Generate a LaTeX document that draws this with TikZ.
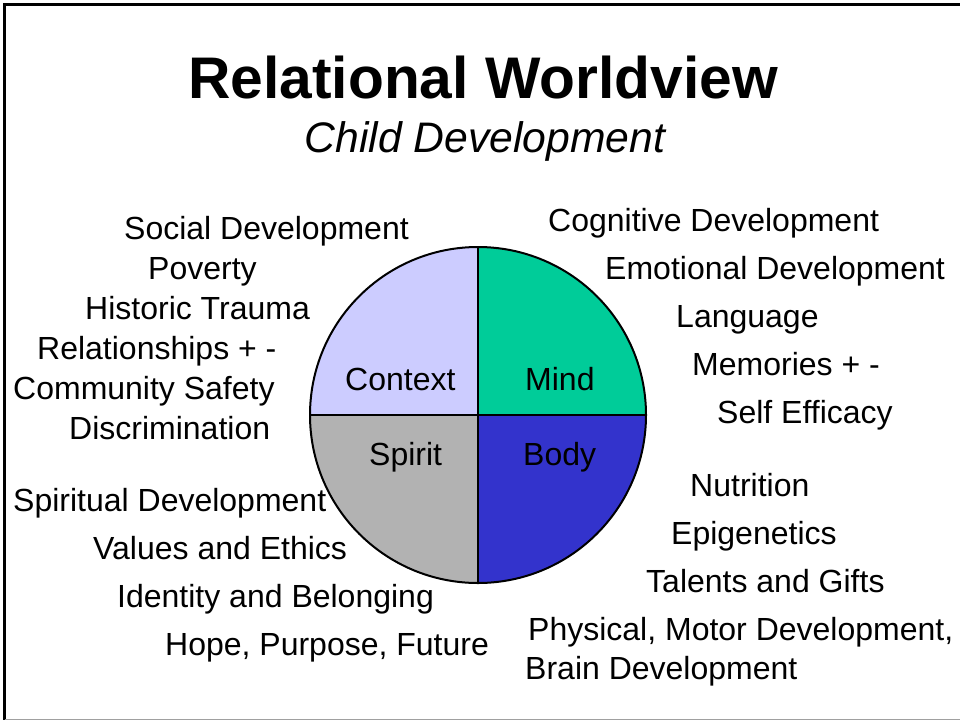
\documentclass[tikz,border=0pt]{standalone}
\usepackage{fontspec}
\setmainfont{Liberation Sans}
\definecolor{ctxc}{HTML}{CCCCFF}
\definecolor{mindc}{HTML}{00CC99}
\definecolor{spiritc}{HTML}{B2B2B2}
\definecolor{bodyc}{HTML}{3333CC}
\definecolor{framegray}{HTML}{A0A0A0}
\begin{document}
\begin{tikzpicture}[x=1pt,y=-1pt,
  lbl/.style={anchor=base west, inner sep=0pt, font=\fontsize{32}{38}\selectfont},
  pieline/.style={line width=2pt, draw=black}]
\useasboundingbox (0,0) rectangle (960,721);
\fill[white] (0,0) rectangle (960,721);
% frame
\coordinate (fbl) at (4.5,719.5);
\coordinate (ftl) at (4.5,4.5);
\coordinate (ftr) at (960,4.5);
\coordinate (fbr) at (960,719.5);
\draw[line width=3pt] (fbl) -- (ftl) -- (ftr);
\draw[line width=1.5pt, framegray] (fbl) -- (fbr);
% titles
\node[inner sep=0pt, anchor=base, font=\fontsize{58.7}{64}\selectfont\bfseries] (title) at (483,98) {Relational Worldview};
\node[inner sep=0pt, anchor=base, font=\fontsize{42.7}{48}\selectfont\itshape] (subtitle) at (485,152) {Child Development};
% pie
\coordinate (c) at (478,415);
\fill[ctxc] (c) -- ++(-168,0) arc[start angle=180,end angle=270,radius=168] -- cycle;
\fill[mindc] (c) -- ++(0,-168) arc[start angle=270,end angle=360,radius=168] -- cycle;
\fill[bodyc] (c) -- ++(168,0) arc[start angle=0,end angle=90,radius=168] -- cycle;
\fill[spiritc] (c) -- ++(0,168) arc[start angle=90,end angle=180,radius=168] -- cycle;
\node[circle, pieline, minimum size=336pt, inner sep=0pt, outer sep=0pt] (pie) at (c) {};
\draw[pieline] (pie.north) -- (pie.south);
\draw[pieline] (pie.west) -- (pie.east);
\node[lbl] (context) at (345,390) {Context};
\node[lbl] (mind) at (525,390) {Mind};
\node[lbl] (spirit) at (369,465) {Spirit};
\node[lbl] (body) at (523,465) {Body};
% context list
\node[lbl] (t1) at (124,239) {Social Development};
\node[lbl] (t2) at (148,279) {Poverty};
\node[lbl] (t3) at (85,319) {Historic Trauma};
\node[lbl] (t4) at (37,359) {Relationships + -};
\node[lbl] (t5) at (13,399) {Community Safety};
\node[lbl] (t6) at (69,439) {Discrimination};
% mind list
\node[lbl] (m1) at (548,231) {Cognitive Development};
\node[lbl] (m2) at (605,279) {Emotional Development};
\node[lbl] (m3) at (676,327) {Language};
\node[lbl] (m4) at (692,375) {Memories + -};
\node[lbl] (m5) at (717,423) {Self Efficacy};
% spirit list
\node[lbl] (s1) at (13,511) {Spiritual Development};
\node[lbl] (s2) at (93,559) {Values and Ethics};
\node[lbl] (s3) at (117,607) {Identity and Belonging};
\node[lbl] (s4) at (165,655) {Hope, Purpose, Future};
% body list
\node[lbl] (b1) at (690,496) {Nutrition};
\node[lbl] (b2) at (671,544) {Epigenetics};
\node[lbl] (b3) at (646,592) {Talents and Gifts};
\node[lbl] (b4) at (528,640) {Physical, Motor Development,};
\node[lbl] (b5) at (525,679) {Brain Development};
\end{tikzpicture}
\end{document}
